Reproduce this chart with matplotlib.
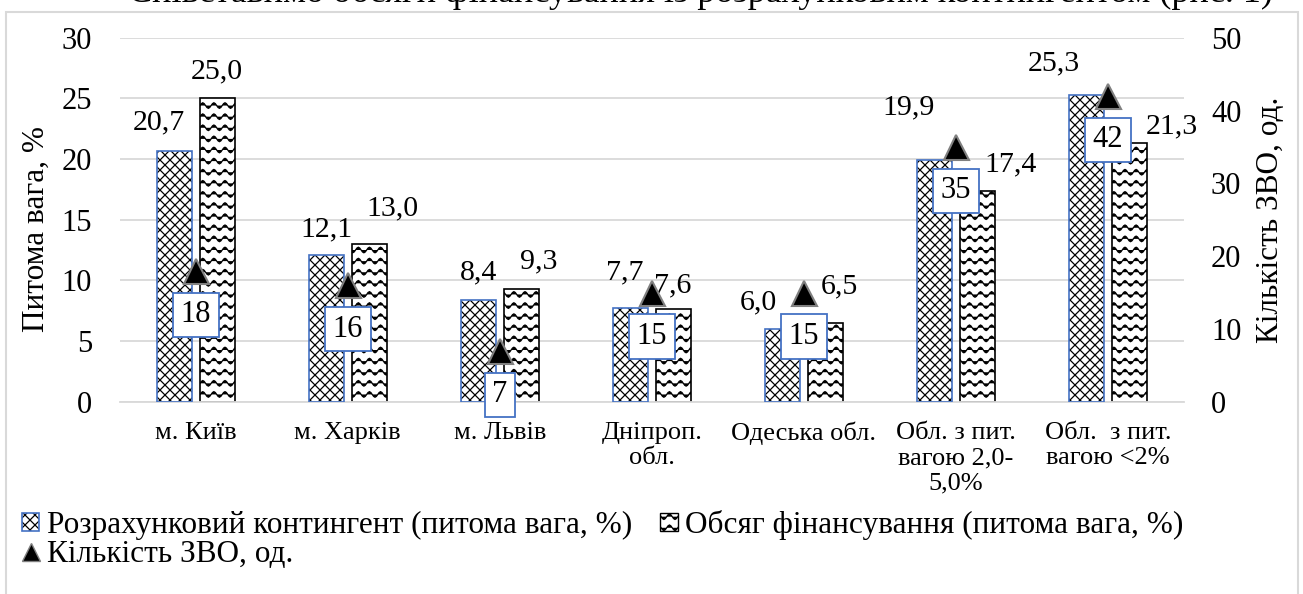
import warnings
import numpy as np
import matplotlib
matplotlib.use("Agg")
import matplotlib.pyplot as plt
import matplotlib.hatch as mhatch
from matplotlib.path import Path
from matplotlib.patches import Patch, Rectangle
from matplotlib.lines import Line2D

warnings.filterwarnings("ignore")

categories = ["м. Київ", "м. Харків", "м. Львів", "Дніпроп.\nобл.", "Одеська обл.",
              "Обл. з пит.\nвагою 2,0-\n5,0%", "Обл.  з пит.\nвагою <2%"]
contingent = [20.7, 12.1, 8.4, 7.7, 6.0, 19.9, 25.3]
funding = [25.0, 13.0, 9.3, 7.6, 6.5, 17.4, 21.3]
hei_count = [18, 16, 7, 15, 15, 35, 42]

# label nudges in pixels (dx, dy), the source chart has hand-placed labels
contingent_nudge = [(-16, 28), (0, 26), (0, 27), (-6, 36), (-24, 27), (-26, 53), (-33, 31)]
funding_nudge = [(0, 27), (23, 36), (18, 27), (0, 24), (14, 36), (33, 26), (43, 17)]

BLUE = "#4472C4"
GRID = "#d9d9d9"


# two extra hatch textures like the Excel ones
class DiamondHatch(mhatch.HatchPatternBase):
    def __init__(self, hatch, density):
        self.n = hatch.count("d") * 10
        self.m = 2 * self.n + 1 if self.n else 0
        self.num_vertices = 4 * self.m

    def set_vertices_and_codes(self, vertices, codes):
        offs = np.arange(-self.n, self.n + 1) / self.n
        m = self.m
        ne = vertices[:2 * m]
        ne[0::2, 0] = offs
        ne[0::2, 1] = 0
        ne[1::2, 0] = offs + 1
        ne[1::2, 1] = 1
        nw = vertices[2 * m:]
        nw[0::2, 0] = offs
        nw[0::2, 1] = 1
        nw[1::2, 0] = offs + 1
        nw[1::2, 1] = 0
        codes[0::2] = Path.MOVETO
        codes[1::2] = Path.LINETO


class WaveHatch(mhatch.HatchPatternBase):
    def __init__(self, hatch, density):
        self.rows = hatch.count("~") * 9
        self.pts = 9 * 8 + 1
        self.num_vertices = self.rows * self.pts

    def set_vertices_and_codes(self, vertices, codes):
        t = np.linspace(0, 1, self.pts)
        for j in range(self.rows):
            seg = vertices[j * self.pts:(j + 1) * self.pts]
            seg[:, 0] = t
            seg[:, 1] = (j + 0.5) / self.rows + 0.028 * np.sin(2 * np.pi * 9 * t)
            codes[j * self.pts] = Path.MOVETO
            codes[j * self.pts + 1:(j + 1) * self.pts] = Path.LINETO


mhatch._hatch_types.extend([DiamondHatch, WaveHatch])

plt.rcParams["font.family"] = ["Liberation Serif", "DejaVu Serif"]
plt.rcParams["hatch.linewidth"] = 0.9

fig = plt.figure(figsize=(13.03, 5.94), dpi=100)
ax = fig.add_axes([119.8 / 1303, 1 - 401.7 / 594, 1064 / 1303, 364 / 594])

x = np.arange(len(categories))
w = 0.23
off = 0.14

ax.bar(x - off, contingent, w, color="white", edgecolor="black", linewidth=0, hatch="d", zorder=2)
ax.bar(x - off, contingent, w, fill=False, edgecolor=BLUE, linewidth=1.2, zorder=3)
ax.bar(x + off, funding, w, color="white", edgecolor="black", linewidth=1.2, hatch="~", zorder=2)

for xi, v, (dx, dy) in zip(x, contingent, contingent_nudge):
    ax.annotate(f"{v:.1f}".replace(".", ","), (xi - off, v), xytext=(dx, dy),
                textcoords="offset pixels", ha="center", va="center", fontsize=21.5)
for xi, v, (dx, dy) in zip(x, funding, funding_nudge):
    ax.annotate(f"{v:.1f}".replace(".", ","), (xi + off, v), xytext=(dx, dy),
                textcoords="offset pixels", ha="center", va="center", fontsize=21.5)

ax.set_xlim(-0.5, len(categories) - 0.5)
ax.set_ylim(0, 30)
ax.set_yticks(np.arange(0, 31, 5))
ax.set_xticks(x)
ax.set_xticklabels(categories)
ax.yaxis.grid(True, color=GRID, linewidth=1.3)
ax.set_axisbelow(True)
for s in ["top", "left", "right"]:
    ax.spines[s].set_visible(False)
ax.spines["bottom"].set_color(GRID)
ax.spines["bottom"].set_linewidth(1.3)
ax.tick_params(axis="y", length=0, pad=20, labelsize=22)
ax.tick_params(axis="x", length=0, pad=14.5, labelsize=19)

ax2 = ax.twinx()
ax2.set_ylim(0, 50)
ax2.set_yticks(np.arange(0, 51, 10))
ax2.plot(x, hei_count, ls="none", marker="^", ms=18, mfc="black", mec="#808080", mew=1.5, zorder=4)
for xi, c in zip(x, hei_count):
    ax2.annotate(str(c), (xi, c), xytext=(0, -44), textcoords="offset pixels",
                 ha="center", va="center", fontsize=22, zorder=5,
                 bbox=dict(boxstyle="square,pad=0.25", fc="white", ec=BLUE, lw=1.3))
for s in ax2.spines.values():
    s.set_visible(False)
ax2.tick_params(axis="y", length=0, pad=19.5, labelsize=22)

fig.text(36 / 1303, 1 - 229 / 594, "Питома вага, %", rotation=90,
         ha="center", va="center", fontsize=22.5)
fig.text(1270.5 / 1303, 1 - 220 / 594, "Кількість ЗВО, од.", rotation=90,
         ha="center", va="center", fontsize=22.5)

# paragraph text of the document, cut by the top edge
fig.text(700 / 1303, 1 - 2.5 / 594,
         "Співставимо обсяги фінансування із розрахунковим контингентом (рис. 1)",
         ha="center", va="baseline", fontsize=26)

fig.patches.append(Rectangle((5.5 / 1303, -0.1), 1292.5 / 1303, 1 - 11.5 / 594 + 0.1,
                             transform=fig.transFigure, fill=False, ec=GRID, lw=1.5))

h_cont = (Patch(facecolor="white", edgecolor="black", linewidth=0, hatch="d"),
          Patch(fill=False, edgecolor=BLUE, linewidth=1.2))
h_fund = Patch(facecolor="white", edgecolor="black", linewidth=1, hatch="~")
h_cnt = Line2D([], [], ls="none", marker="^", ms=13, mfc="black", mec="#808080", mew=1)
fig.legend([h_cont, h_cnt, h_fund],
           ["Розрахунковий контингент (питома вага, %)", "Кількість ЗВО, од.",
            "Обсяг фінансування (питома вага, %)"],
           ncol=2, loc="upper left", bbox_to_anchor=(22 / 1303, 1 - 510 / 594),
           frameon=False, fontsize=22.5, handlelength=0.55, handleheight=0.55,
           handletextpad=0.25, columnspacing=0.9, labelspacing=0.0,
           borderpad=0, borderaxespad=0)

fig.savefig("out.png", dpi=100)
